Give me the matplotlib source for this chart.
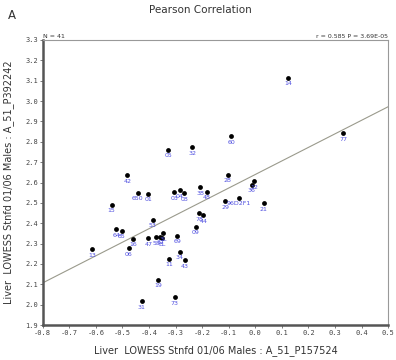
import numpy as np
import matplotlib
matplotlib.use("Agg")
import matplotlib.pyplot as plt

labels = ["14", "77", "60", "28", "12", "36", "21", "29", "96D2F1", "05",
          "32", "42", "650", "01", "03", "04", "08", "38", "48", "15",
          "13", "64", "85", "16", "06", "53", "47", "58", "37", "3L",
          "EL", "69", "09", "78", "44", "34", "11", "43", "19", "31", "73"]
x_vals = [0.123, 0.330, -0.090, -0.104, -0.003, -0.014, 0.031, -0.113, -0.063, -0.328,
          -0.237, -0.482, -0.442, -0.402, -0.305, -0.285, -0.268, -0.207, -0.182, -0.541,
          -0.613, -0.523, -0.502, -0.459, -0.476, -0.386, -0.402, -0.373, -0.358, -0.347,
          -0.352, -0.293, -0.225, -0.210, -0.195, -0.284, -0.325, -0.265, -0.367, -0.427, -0.304]
y_vals = [3.115, 2.842, 2.827, 2.637, 2.607, 2.589, 2.498, 2.508, 2.525, 2.760,
          2.774, 2.635, 2.550, 2.544, 2.552, 2.562, 2.547, 2.577, 2.555, 2.490,
          2.273, 2.370, 2.363, 2.324, 2.277, 2.417, 2.327, 2.332, 2.333, 2.351,
          2.326, 2.339, 2.383, 2.449, 2.439, 2.260, 2.226, 2.219, 2.121, 2.017, 2.036]
# regression line (value at x=-0.8 and x=0.5)
line_x = [-0.8, 0.5]
line_y = [2.107, 2.972]

x_ticks = [-0.8, -0.7, -0.6, -0.5, -0.4, -0.3, -0.2, -0.1, 0.0, 0.1, 0.2, 0.3, 0.4, 0.5]
y_ticks = [1.9, 2.0, 2.1, 2.2, 2.3, 2.4, 2.5, 2.6, 2.7, 2.8, 2.9, 3.0, 3.1, 3.2, 3.3]

fig = plt.figure(figsize=(3.96, 3.60), dpi=100)
ax = fig.add_axes([0.108, 0.0972, 0.872, 0.7917])

ax.plot(line_x, line_y, color="#9a9a8c", lw=0.8, zorder=1)
ax.scatter(x_vals, y_vals, s=12, color="black", zorder=3, linewidths=0)
for lx, ly, lab in zip(x_vals, y_vals, labels):
    ax.annotate(lab, (lx, ly), xytext=(0, -2.5), textcoords="offset points",
                ha="center", va="top", fontsize=4.5, color="#4f4fe0", zorder=4)

ax.set_xlim(-0.8, 0.5)
ax.set_ylim(1.9, 3.3)
ax.set_xticks(x_ticks)
ax.set_yticks(y_ticks)
ax.set_xticklabels([f"{v:.1f}".replace("-0.0", "0.0") for v in x_ticks],
                   fontsize=5, family="DejaVu Sans Mono", color="#444444")
ax.set_yticklabels([f"{v:.1f}" for v in y_ticks],
                   fontsize=5, family="DejaVu Sans Mono", color="#444444")
ax.tick_params(length=2, width=0.6, color="#666666", pad=1.5)

for side in ["top", "right"]:
    ax.spines[side].set_color("#999999")
    ax.spines[side].set_linewidth(0.8)
for side in ["left", "bottom"]:
    ax.spines[side].set_color("#555555")
    ax.spines[side].set_linewidth(1.8)

ax.text(0.0, 1.005, "N = 41", transform=ax.transAxes, fontsize=4.5,
        ha="left", va="bottom", color="#333333")
ax.text(1.0, 1.005, "r = 0.585 P = 3.69E-05", transform=ax.transAxes, fontsize=4.5,
        ha="right", va="bottom", color="#333333")

fig.text(0.505, 0.972, "Pearson Correlation", ha="center", va="center",
         fontsize=7.5, color="#333333")
fig.text(0.02, 0.958, "A", ha="left", va="center", fontsize=8.5, color="#333333")

ax.set_xlabel("Liver  LOWESS Stnfd 01/06 Males : A_51_P157524", fontsize=7,
              color="#333333", labelpad=7)
ax.set_ylabel("Liver  LOWESS Stnfd 01/06 Males : A_51_P392242", fontsize=7,
              color="#333333", labelpad=8)

fig.savefig("out.png", dpi=100)
